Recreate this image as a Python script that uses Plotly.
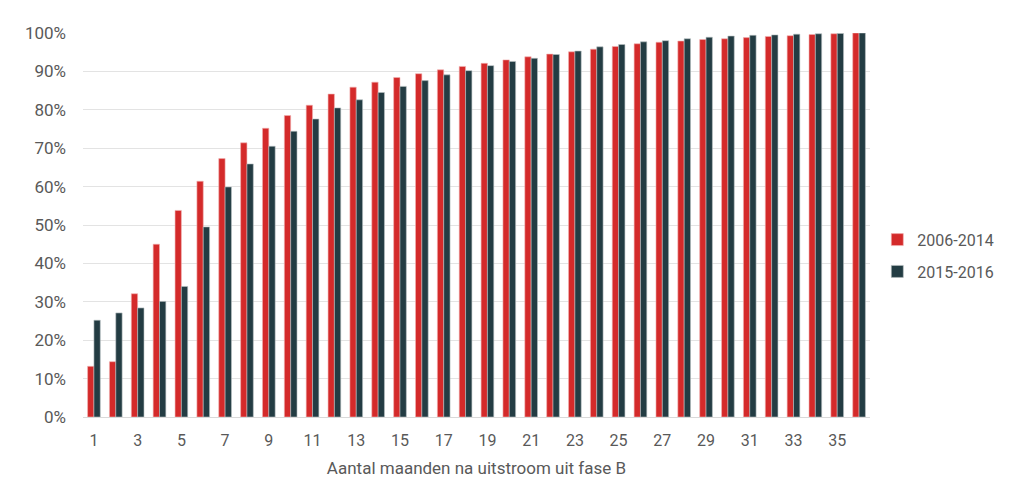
import plotly.graph_objects as go

months = list(range(1, 37))
series_2006_2014 = [13.2, 14.4, 32.1, 45.0, 53.8, 61.4, 67.3, 71.4, 75.2, 78.5, 81.2, 84.1,
                    85.9, 87.2, 88.4, 89.4, 90.4, 91.3, 92.1, 93.0, 93.8, 94.5, 95.1, 95.8,
                    96.5, 97.2, 97.6, 97.9, 98.3, 98.5, 98.8, 99.1, 99.3, 99.6, 99.8, 100.0]
series_2015_2016 = [25.2, 27.1, 28.4, 30.1, 34.0, 49.5, 59.9, 65.9, 70.5, 74.4, 77.6, 80.5,
                    82.6, 84.5, 86.1, 87.6, 89.1, 90.2, 91.5, 92.6, 93.4, 94.4, 95.3, 96.4,
                    97.0, 97.7, 98.0, 98.5, 98.9, 99.2, 99.4, 99.5, 99.7, 99.8, 99.9, 100.0]
x_ticks = list(range(1, 37, 2))
y_ticks = list(range(0, 101, 10))

font_family = "Roboto, Lato, sans-serif"
text_color = "#595959"

fig = go.Figure()
fig.add_trace(go.Bar(x=months, y=series_2006_2014, name="2006-2014", legendgroup="a",
                     marker=dict(color="#d42a2a", line=dict(color="#f2b3b3", width=0.6))))
fig.add_trace(go.Bar(x=months, y=series_2015_2016, name="2015-2016", legendgroup="b",
                     marker=dict(color="#233c43", line=dict(color="#b9c1c3", width=0.6))))

fig.update_layout(
    width=1002, height=489,
    margin=dict(l=75, r=139, t=25, b=80),
    paper_bgcolor="white", plot_bgcolor="white",
    barmode="group", bargap=0.42, bargroupgap=0.0,
    font=dict(family=font_family, color=text_color, size=15),
    legend=dict(x=1.008, y=0.42, xanchor="left", yanchor="middle",
                font=dict(size=16, color=text_color), itemwidth=30,
                tracegroupgap=8, bgcolor="rgba(0,0,0,0)"),
    xaxis=dict(range=[0.5, 36.5], tickmode="array", tickvals=x_ticks,
               ticktext=[str(v) for v in x_ticks], showgrid=False, zeroline=False,
               showline=True, linecolor="#d9d9d9", linewidth=1, ticks="",
               tickfont=dict(size=16), ticklabelstandoff=9,
               title=dict(text="Aantal maanden na uitstroom uit fase B",
                          font=dict(size=17, color=text_color), standoff=12)),
    yaxis=dict(range=[0, 100], tickmode="array", tickvals=y_ticks,
               ticktext=[f"{v}%" for v in y_ticks], showgrid=True,
               gridcolor="#e3e3e3", gridwidth=1, zeroline=False, ticks="",
               tickfont=dict(size=17), ticklabelstandoff=16),
)

fig.write_html("out.html")
